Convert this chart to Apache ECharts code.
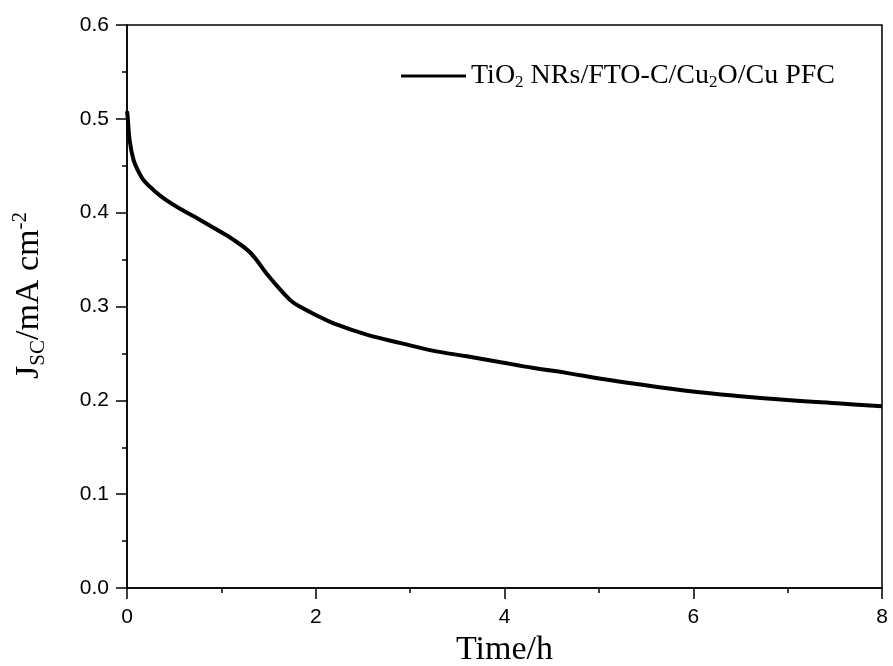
<!DOCTYPE html>
<html>
<head>
<meta charset="utf-8">
<script src="https://cdn.jsdelivr.net/npm/echarts@6/dist/echarts.min.js"></script>
<style>
html,body{margin:0;padding:0;background:#fff;}
#chart{width:893px;height:666px;}
</style>
</head>
<body>
<div id="chart"></div>
<script>
// time in hours, current density in mA cm^-2
var timeH = [0, 0.006, 0.028, 0.07, 0.123, 0.176, 0.282, 0.42, 0.6, 0.78, 0.95, 1.13, 1.31, 1.48, 1.66, 1.75, 1.84, 2.0, 2.19, 2.54, 2.9, 3.25, 3.6, 3.96, 4.31, 4.67, 5.02, 5.44, 5.97, 6.5, 7.03, 7.56, 8.0];
var jsc = [0.508, 0.503, 0.477, 0.456, 0.4435, 0.4346, 0.424, 0.413, 0.402, 0.392, 0.382, 0.371, 0.357, 0.335, 0.314, 0.305, 0.2995, 0.291, 0.282, 0.270, 0.261, 0.2527, 0.247, 0.2406, 0.2345, 0.229, 0.223, 0.2168, 0.2097, 0.2044, 0.200, 0.1966, 0.1937];
var seriesName = 'TiO2 NRs/FTO-C/Cu2O/Cu PFC';

var points = [];
for (var i = 0; i < timeH.length; i++) {
	points.push([timeH[i], jsc[i]]);
}

var myChart = echarts.init(document.getElementById('chart'));
var serif = '"Liberation Serif", "Times New Roman", serif';
var sans = '"Liberation Sans", Arial, sans-serif';

var option = {
	backgroundColor: '#fff',
	animation: false,
	grid: {
		left: 127, right: 11, top: 25, bottom: 78,
		outerBoundsMode: 'none',
		containLabel: false,
		show: true, borderColor: '#000', borderWidth: 1.5
	},
	legend: {
		data: [seriesName],
		left: 396, top: 57,
		icon: 'rect',
		itemWidth: 65, itemHeight: 3,
		itemGap: 8,
		formatter: function () {
			return 'TiO{sub|2} NRs/FTO-C/Cu{sub|2}O/Cu PFC';
		},
		textStyle: {
			fontFamily: serif, fontSize: 28, color: '#000',
			rich: {
				sub: {fontFamily: serif, fontSize: 17, color: '#000', verticalAlign: 'bottom', padding: [14, 0, 0, 0]}
			}
		}
	},
	xAxis: {
		type: 'value',
		min: 0, max: 8, interval: 2,
		name: 'Time/h',
		nameLocation: 'middle',
		nameGap: 44,
		nameTextStyle: {fontFamily: serif, fontSize: 34, color: '#000'},
		axisLine: {show: true, lineStyle: {color: '#000', width: 1.5}},
		axisTick: {show: true, inside: false, length: 11, lineStyle: {color: '#000', width: 1.5}},
		minorTick: {show: true, splitNumber: 2, length: 5, lineStyle: {color: '#000', width: 1.5}},
		axisLabel: {fontFamily: sans, fontSize: 21, color: '#000', margin: 19},
		splitLine: {show: false}
	},
	yAxis: {
		type: 'value',
		min: 0, max: 0.6, interval: 0.1,
		name: '{b|J}{sub|SC}{b|/mA cm}{sup|-2}',
		nameLocation: 'middle',
		nameGap: 78,
		nameRotate: 90,
		nameTextStyle: {
			fontFamily: serif, fontSize: 34, color: '#000',
			padding: [0, 0, 0, 22],
			rich: {
				b: {fontFamily: serif, fontSize: 34, color: '#000'},
				sub: {fontFamily: serif, fontSize: 21, color: '#000', verticalAlign: 'bottom', padding: [18, 0, 0, 0]},
				sup: {fontFamily: serif, fontSize: 21, color: '#000', verticalAlign: 'top', padding: [0, 0, 18, 0]}
			}
		},
		axisLine: {show: true, lineStyle: {color: '#000', width: 1.5}},
		axisTick: {show: true, inside: false, length: 11, lineStyle: {color: '#000', width: 1.5}},
		minorTick: {show: true, splitNumber: 2, length: 5, lineStyle: {color: '#000', width: 1.5}},
		axisLabel: {
			fontFamily: sans, fontSize: 21, color: '#000', margin: 18,
			formatter: function (v) { return v.toFixed(1); }
		},
		splitLine: {show: false}
	},
	series: [{
		name: seriesName,
		type: 'line',
		data: points,
		smooth: 0.4,
		showSymbol: false,
		lineStyle: {color: '#000', width: 4},
		itemStyle: {color: '#000'}
	}]
};
myChart.setOption(option);
</script>
</body>
</html>
